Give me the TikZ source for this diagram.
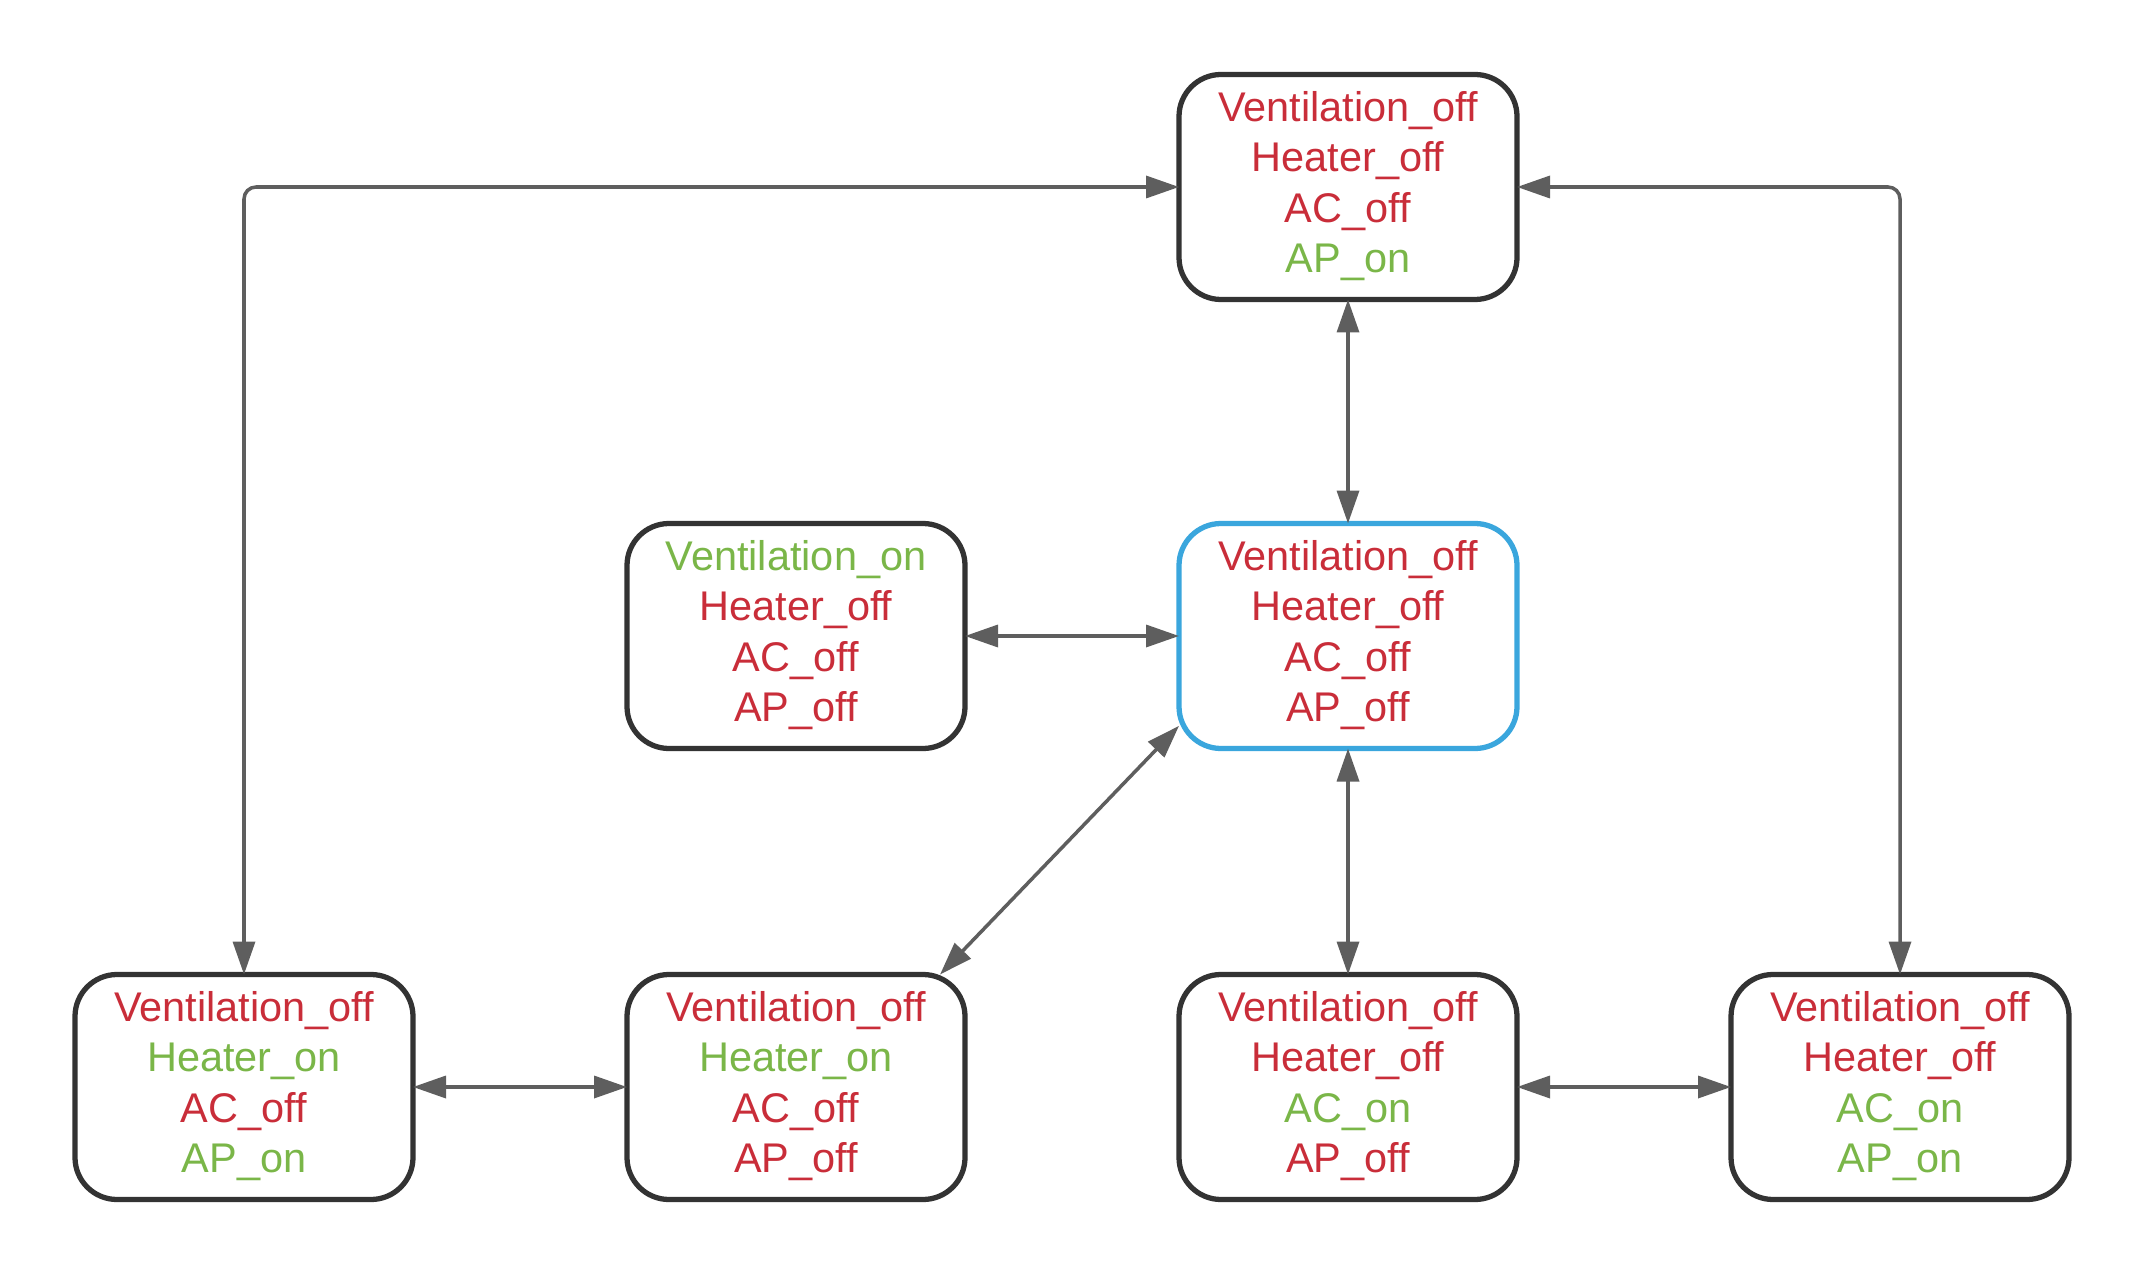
\documentclass[tikz,border=0pt]{standalone}
\usepackage{fontspec}
\setmainfont{Liberation Sans}
\usetikzlibrary{arrows.meta,positioning}
\definecolor{offred}{HTML}{C92D39}
\definecolor{ongreen}{HTML}{7AB648}
\definecolor{boxgray}{HTML}{333333}
\definecolor{linegray}{HTML}{5E5E5E}
\definecolor{selblue}{HTML}{3AA6DD}
\newcommand{\stoff}[1]{\textcolor{offred}{#1}}
\newcommand{\ston}[1]{\textcolor{ongreen}{#1}}
\begin{document}
\begin{tikzpicture}[
  state/.style={draw=boxgray, line width=1.5pt, rounded corners=0.42cm, fill=white,
    minimum width=3.38cm, minimum height=2.25cm, inner sep=0pt, outer sep=0pt,
    font=\fontsize{11.8}{14.35}\selectfont},
  link/.style={draw=linegray, line width=1pt, rounded corners=0.12cm,
    {Triangle[length=3.3mm,width=2.2mm]}-{Triangle[length=3.3mm,width=2.2mm]}}
]
\useasboundingbox (0,0) rectangle (21.45,12.75);
\node (top) [state] at (13.48,10.88) {
\begin{tabular}{@{}c@{}}
 \stoff{Ventilation\_off} \\
 \stoff{Heater\_off} \\
 \stoff{AC\_off} \\
 \ston{AP\_on}
\end{tabular}
};
\node (mid) [state, draw=selblue] at (13.48,6.39) {
\begin{tabular}{@{}c@{}}
 \stoff{Ventilation\_off} \\
 \stoff{Heater\_off} \\
 \stoff{AC\_off} \\
 \stoff{AP\_off}
\end{tabular}
};
\node (vent) [state] at (7.96,6.39) {
\begin{tabular}{@{}c@{}}
 \ston{Ventilation\_on} \\
 \stoff{Heater\_off} \\
 \stoff{AC\_off} \\
 \stoff{AP\_off}
\end{tabular}
};
\node (heatap) [state] at (2.44,1.88) {
\begin{tabular}{@{}c@{}}
 \stoff{Ventilation\_off} \\
 \ston{Heater\_on} \\
 \stoff{AC\_off} \\
 \ston{AP\_on}
\end{tabular}
};
\node (heat) [state] at (7.96,1.88) {
\begin{tabular}{@{}c@{}}
 \stoff{Ventilation\_off} \\
 \ston{Heater\_on} \\
 \stoff{AC\_off} \\
 \stoff{AP\_off}
\end{tabular}
};
\node (ac) [state] at (13.48,1.88) {
\begin{tabular}{@{}c@{}}
 \stoff{Ventilation\_off} \\
 \stoff{Heater\_off} \\
 \ston{AC\_on} \\
 \stoff{AP\_off}
\end{tabular}
};
\node (acap) [state] at (19.0,1.88) {
\begin{tabular}{@{}c@{}}
 \stoff{Ventilation\_off} \\
 \stoff{Heater\_off} \\
 \ston{AC\_on} \\
 \ston{AP\_on}
\end{tabular}
};
\draw [link] (top) -- (mid);
\draw [link] (vent) -- (mid);
\draw [link] (mid.208) -- (heat.38.7);
\draw [link] (mid) -- (ac);
\draw [link] (heatap) -- (heat);
\draw [link] (ac) -- (acap);
\draw [link] (heatap.north) |- (top.west);
\draw [link] (acap.north) |- (top.east);
\end{tikzpicture}
\end{document}
